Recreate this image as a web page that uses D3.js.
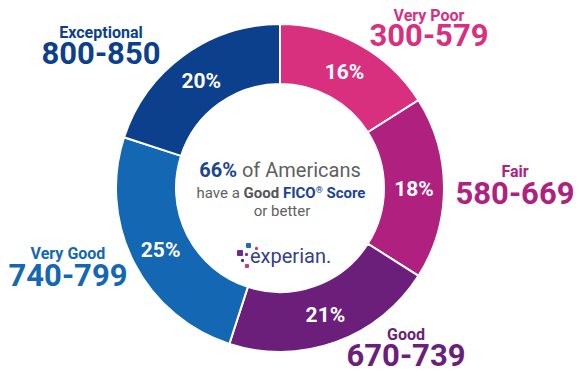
<!DOCTYPE html>
<html>
<head>
<meta charset="utf-8">
<script src="https://cdnjs.cloudflare.com/ajax/libs/d3/7.8.5/d3.min.js"></script>
<style>
  body { margin: 0; background: #fff; }
  svg { display: block; font-family: Roboto, sans-serif; }
</style>
</head>
<body>
<svg id="chart" width="582" height="379"></svg>
<script>
// score bands, clockwise from 12 o'clock
const bands = ['Very Poor', 'Fair', 'Good', 'Very Good', 'Exceptional']
const ranges = ['300-579', '580-669', '670-739', '740-799', '800-850']
const shares = [16, 18, 21, 25, 20]
const colors = ['#d8307f', '#b0207f', '#6b1e7a', '#1467b3', '#0c3f8c']

const svg = d3.select('#chart')
const cx = 280, cy = 188
const outerR = 164, innerR = 104

const pie = d3.pie().sort(null).value(d => d)
const arcs = pie(shares)

const arc = d3.arc()
    .innerRadius(innerR)
    .outerRadius(outerR)

const g = svg.append('g').attr('transform', `translate(${cx},${cy})`)

g.selectAll('path.slice')
    .data(arcs)
    .enter()
    .append('path')
    .attr('class', 'slice')
    .attr('d', arc)
    .attr('fill', (d, i) => colors[i])
    .attr('stroke', '#fff')
    .attr('stroke-width', 2)

// percent labels inside the ring
g.selectAll('text.pct')
    .data(arcs)
    .enter()
    .append('text')
    .attr('class', 'pct')
    .attr('x', d => arc.centroid(d)[0])
    .attr('y', d => arc.centroid(d)[1] + 8)
    .attr('text-anchor', 'middle')
    .attr('fill', '#fff')
    .attr('font-weight', 700)
    .attr('font-size', 21)
    .text(d => d.data + '%')

// outer labels - placed by hand like the original graphic
const labelPos = [
    { x: 429, y1: 21, y2: 46 },
    { x: 515, y1: 177, y2: 204 },
    { x: 406, y1: 340, y2: 366 },
    { x: 68, y1: 259, y2: 286 },
    { x: 101, y1: 38, y2: 64 }
]

bands.forEach((b, i) => {
    const p = labelPos[i]
    svg.append('text')
        .attr('x', p.x).attr('y', p.y1)
        .attr('text-anchor', 'middle')
        .attr('fill', colors[i])
        .attr('font-weight', 700)
        .attr('font-size', 16)
        .text(b)
    svg.append('text')
        .attr('x', p.x).attr('y', p.y2)
        .attr('text-anchor', 'middle')
        .attr('fill', colors[i])
        .attr('font-weight', 700)
        .attr('font-size', 31)
        .text(ranges[i])
})

// center text
const grey = '#5f5f5f', blue = '#1a4591'
const t1 = svg.append('text').attr('x', cx).attr('y', 177)
    .attr('text-anchor', 'middle').attr('font-size', 20).attr('fill', grey)
t1.append('tspan').attr('font-weight', 700).attr('fill', blue).text('66%')
t1.append('tspan').text(' of Americans')

const t2 = svg.append('text').attr('x', cx + 1).attr('y', 198)
    .attr('text-anchor', 'middle').attr('font-size', 15).attr('fill', grey)
t2.append('tspan').text('have a ')
t2.append('tspan').attr('font-weight', 700).attr('fill', '#555').text('Good ')
t2.append('tspan').attr('font-weight', 700).attr('fill', blue).text('FICO')
t2.append('tspan').attr('font-weight', 700).attr('fill', blue).attr('font-size', 9).attr('dy', -5).text('®')
t2.append('tspan').attr('font-weight', 700).attr('fill', blue).attr('dy', 5).text(' Score')

svg.append('text').attr('x', cx + 2).attr('y', 216)
    .attr('text-anchor', 'middle').attr('font-size', 15).attr('fill', grey)
    .text('or better')

// experian logo
const logo = svg.append('g')
const dots = [
    { x: 246, y: 243, s: 5, c: '#1d6cb5' },
    { x: 255, y: 247, s: 3, c: '#d8307f' },
    { x: 237, y: 250, s: 6, c: '#6b2c8f' },
    { x: 245, y: 253, s: 3, c: '#a3237f' },
    { x: 241, y: 259, s: 3, c: '#4a2d8a' },
    { x: 245, y: 264, s: 4, c: '#d8307f' }
]
logo.selectAll('rect')
    .data(dots)
    .enter()
    .append('rect')
    .attr('x', d => d.x).attr('y', d => d.y)
    .attr('width', d => d.s).attr('height', d => d.s)
    .attr('rx', 1)
    .attr('fill', d => d.c)
logo.append('text')
    .attr('x', 250).attr('y', 263)
    .attr('font-size', 20)
    .attr('fill', '#35408c')
    .text('experian.')
</script>
</body>
</html>
